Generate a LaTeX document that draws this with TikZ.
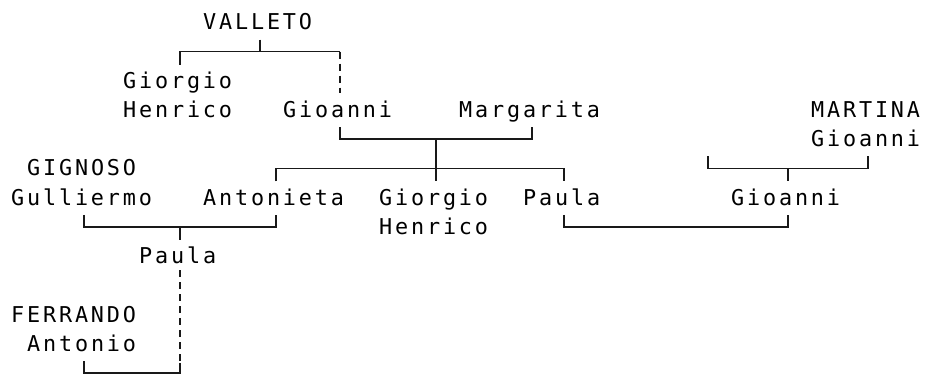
\documentclass[tikz,border=0pt]{standalone}
\usepackage{fontspec}
\newfontfamily\monof[LetterSpace=13]{DejaVu Sans Mono}
\begin{document}
\begin{tikzpicture}[x=1pt,y=-1pt,
  declare function={X(\c)=20+16*\c; Y(\r)=22.5+29.2*\r; T(\c)=11+16*\c; B(\r)=30+29.2*\r;},
  nm/.style={font=\monof\fontsize{21.8}{24}\selectfont, anchor=base west, inner sep=0pt, text=black},
  bar/.style={line width=1.6pt, draw=black!90},
  dbar/.style={bar, dash pattern=on 7pt off 5pt}]
\useasboundingbox (0,0) rectangle (929,374);
% names
\node[nm] (valleto) at ({T(12)},{B(0)}) {VALLETO};
\node[nm] (gh1a) at ({T(7)},{B(2)}) {Giorgio};
\node[nm] (gh1b) at ({T(7)},{B(3)}) {Henrico};
\node[nm] (gio1) at ({T(17)},{B(3)}) {Gioanni};
\node[nm] (marg) at ({T(28)},{B(3)}) {Margarita};
\node[nm] (mart) at ({T(50)},{B(3)}) {MARTINA};
\node[nm] (gio3) at ({T(50)},{B(4)}) {Gioanni};
\node[nm] (gign) at ({T(1)},{B(5)}) {GIGNOSO};
\node[nm] (gull) at ({T(0)},{B(6)}) {Gulliermo};
\node[nm] (anto) at ({T(12)},{B(6)}) {Antonieta};
\node[nm] (gh2a) at ({T(23)},{B(6)}) {Giorgio};
\node[nm] (gh2b) at ({T(23)},{B(7)}) {Henrico};
\node[nm] (paula1) at ({T(32)},{B(6)}) {Paula};
\node[nm] (gio2) at ({T(45)},{B(6)}) {Gioanni};
\node[nm] (paula2) at ({T(8)},{B(8)}) {Paula};
\node[nm] (ferr) at ({T(0)},{B(10)}) {FERRANDO};
\node[nm] (antonio) at ({T(1)},{B(11)}) {Antonio};
% junction coordinates
\coordinate (vT) at ({X(15)},{Y(1)-12});
\coordinate (vJ) at ({X(15)},{Y(1)});
\coordinate (ghT) at ({X(10)},{Y(1)+13});
\coordinate (ghJ) at ({X(10)},{Y(1)});
\coordinate (g1J) at ({X(20)},{Y(1)});
\coordinate (g1T) at ({X(20)},{Y(2)+12});
\coordinate (gmA) at ({X(20)},{Y(4)-12});
\coordinate (gmB) at ({X(20)},{Y(4)});
\coordinate (gmC) at ({X(32)},{Y(4)});
\coordinate (gmD) at ({X(32)},{Y(4)-12});
\coordinate (gmJ) at ({X(26)},{Y(4)});
\coordinate (chM) at ({X(26)},{Y(5)});
\coordinate (chG) at ({X(26)},{Y(5)+13});
\coordinate (chA) at ({X(16)},{Y(5)+13});
\coordinate (chAJ) at ({X(16)},{Y(5)});
\coordinate (chP) at ({X(34)},{Y(5)});
\coordinate (chPT) at ({X(34)},{Y(5)+13});
\coordinate (gaA) at ({X(4)},{Y(7)-12});
\coordinate (gaB) at ({X(4)},{Y(7)});
\coordinate (gaC) at ({X(16)},{Y(7)});
\coordinate (gaD) at ({X(16)},{Y(7)-12});
\coordinate (gaJ) at ({X(10)},{Y(7)});
\coordinate (gaP) at ({X(10)},{Y(7)+13});
\coordinate (pfT) at ({X(10)},{Y(8)+14});
\coordinate (pfJ) at ({X(10)},{Y(12)-10});
\coordinate (pfB) at ({X(10)},{Y(12)});
\coordinate (pfC) at ({X(4)},{Y(12)});
\coordinate (pfD) at ({X(4)},{Y(12)-12});
\coordinate (pgA) at ({X(34)},{Y(7)-12});
\coordinate (pgB) at ({X(34)},{Y(7)});
\coordinate (pgC) at ({X(48)},{Y(7)});
\coordinate (pgD) at ({X(48)},{Y(7)-12});
\coordinate (mA) at ({X(43)},{Y(5)-12});
\coordinate (mB) at ({X(43)},{Y(5)});
\coordinate (mC) at ({X(53)},{Y(5)});
\coordinate (mD) at ({X(53)},{Y(5)-12});
\coordinate (mJ) at ({X(48)},{Y(5)});
\coordinate (mG) at ({X(48)},{Y(5)+13});
% connectors
\draw[bar] (vT) -- (vJ);
\draw[bar] (ghT) -- (ghJ) -- (g1J);
\draw[dbar] (g1J) -- (g1T);
\draw[bar] (gmA) -- (gmB) -- (gmC) -- (gmD);
\draw[bar] (gmJ) -- (chM) -- (chG);
\draw[bar] (chA) -- (chAJ) -- (chP) -- (chPT);
\draw[bar] (gaA) -- (gaB) -- (gaC) -- (gaD);
\draw[bar] (gaJ) -- (gaP);
\draw[dbar] (pfT) -- (pfJ);
\draw[bar] (pfJ) -- (pfB) -- (pfC) -- (pfD);
\draw[bar] (pgA) -- (pgB) -- (pgC) -- (pgD);
\draw[bar] (mA) -- (mB) -- (mC) -- (mD);
\draw[bar] (mJ) -- (mG);
\end{tikzpicture}
\end{document}
